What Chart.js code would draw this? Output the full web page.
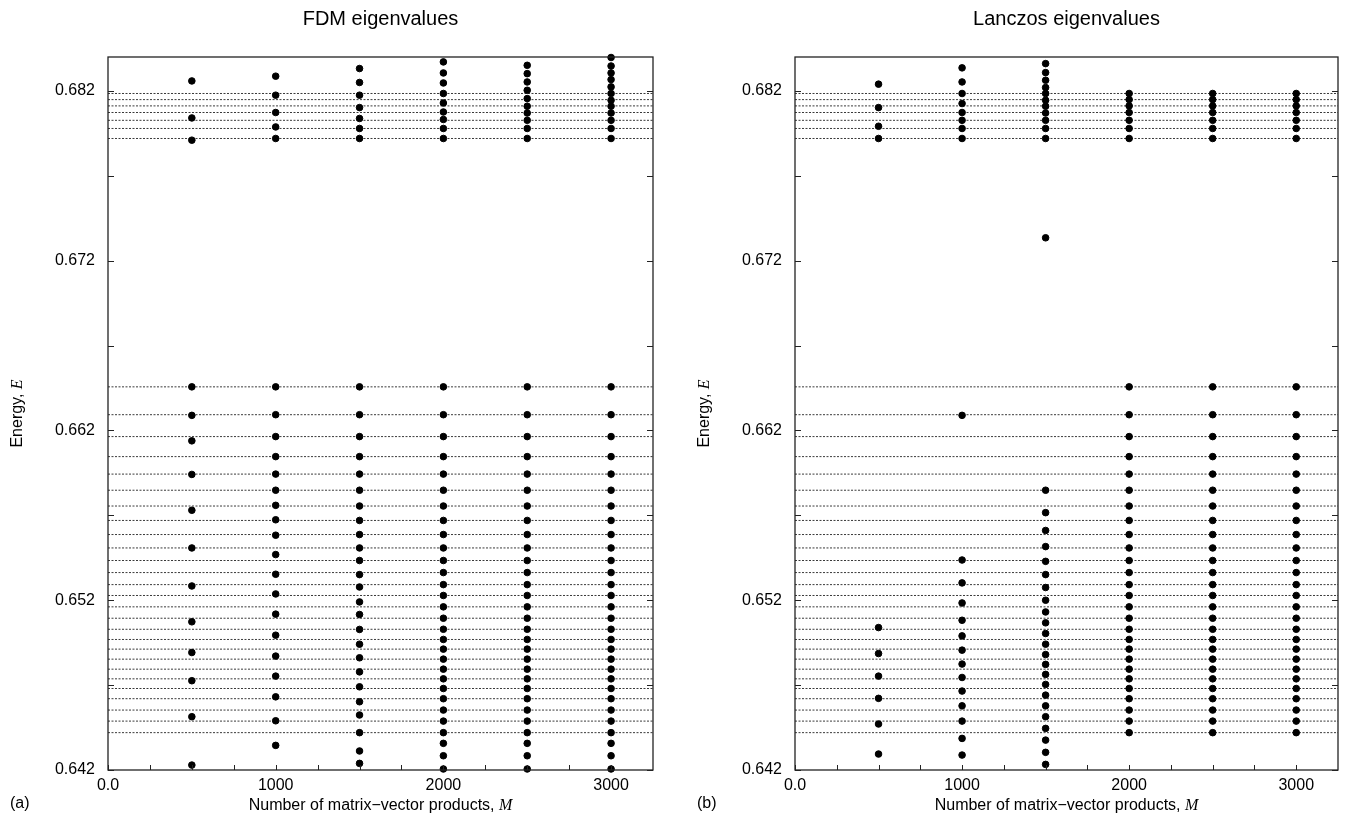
<!DOCTYPE html>
<html>
<head>
<meta charset="utf-8">
<script src="https://cdn.jsdelivr.net/npm/chart.js@4.4.0/dist/chart.umd.min.js"></script>
<style>
    body { margin: 0; background: #fff; }
    #wrap { position: relative; width: 1347px; height: 827px; }
    canvas { position: absolute; top: 0; }
    #fdmChart { left: 0; }
    #lanczosChart { left: 680px; }
</style>
</head>
<body>
<div id="wrap">
    <canvas id="fdmChart" width="680" height="827"></canvas>
    <canvas id="lanczosChart" width="667" height="827"></canvas>
</div>
<script>
// number of matrix-vector products used
var mValues = [500, 1000, 1500, 2000, 2500, 3000];

var xTickLabels = [0, 1000, 2000, 3000];
var xMinorTicks = [250, 500, 750, 1250, 1500, 1750, 2250, 2500, 2750];
var yTickLabels = [0.642, 0.652, 0.662, 0.672, 0.682];
var yMinorTicks = [0.647, 0.657, 0.667, 0.677];

// exact eigenvalues (dotted lines)
var upperLevels = [0.68185, 0.68149, 0.68112, 0.68073, 0.68027, 0.67979, 0.67920];
var lowerLevels = [0.66457, 0.66293, 0.66164, 0.66046, 0.65943, 0.65848, 0.65755, 0.65670, 0.65587,
    0.65508, 0.65434, 0.65363, 0.65292, 0.65228, 0.65161, 0.65094, 0.65029, 0.64969, 0.64912,
    0.64853, 0.64794, 0.64737, 0.64680, 0.64620, 0.64553, 0.64488, 0.64420];

// FDM eigenvalues per M
var fdm500 = [0.68259, 0.68041, 0.67910, 0.66457, 0.66289, 0.66139, 0.65941, 0.65730, 0.65508,
    0.65284, 0.65073, 0.64892, 0.64726, 0.64514, 0.64229];
var fdm1000 = [0.68287, 0.68175, 0.68073, 0.67988, 0.67920, 0.66457, 0.66293, 0.66164, 0.66046,
    0.65943, 0.65848, 0.65759, 0.65674, 0.65583, 0.65469, 0.65353, 0.65237, 0.65118, 0.64994,
    0.64871, 0.64753, 0.64631, 0.64490, 0.64345];
var fdm1500 = [0.68332, 0.68250, 0.68175, 0.68102, 0.68038, 0.67979, 0.67920, 0.66457, 0.66293,
    0.66164, 0.66046, 0.65943, 0.65848, 0.65755, 0.65670, 0.65587, 0.65508, 0.65434, 0.65351,
    0.65278, 0.65190, 0.65116, 0.65028, 0.64941, 0.64861, 0.64778, 0.64690, 0.64602, 0.64524,
    0.64420, 0.64312, 0.64239];
var fdm2000 = [0.68371, 0.68306, 0.68247, 0.68185, 0.68129, 0.68076, 0.68032, 0.67979, 0.67920]
    .concat(lowerLevels, [0.64357, 0.64284, 0.64206]);
var fdm2500 = [0.68351, 0.68302, 0.68253, 0.68204, 0.68155, 0.68110, 0.68070, 0.68027, 0.67979, 0.67920]
    .concat(lowerLevels, [0.64357, 0.64284, 0.64206]);
var fdm3000 = [0.68397, 0.68347, 0.68306, 0.68267, 0.68224, 0.68185, 0.68145, 0.68110, 0.68070,
    0.68027, 0.67979, 0.67920].concat(lowerLevels, [0.64357, 0.64284, 0.64206]);

// Lanczos eigenvalues per M
var lan500 = [0.68240, 0.68102, 0.67992, 0.67920, 0.65039, 0.64886, 0.64753, 0.64622, 0.64471, 0.64294];
var lan1000 = [0.68336, 0.68253, 0.68185, 0.68126, 0.68073, 0.68027, 0.67979, 0.67920, 0.66289,
    0.65437, 0.65302, 0.65184, 0.65082, 0.64990, 0.64906, 0.64824, 0.64745, 0.64665, 0.64578,
    0.64488, 0.64386, 0.64288];
var lan1500 = [0.68361, 0.68308, 0.68263, 0.68220, 0.68185, 0.68145, 0.68110, 0.68070, 0.68027,
    0.67979, 0.67920, 0.67335, 0.65848, 0.65716, 0.65611, 0.65516, 0.65429, 0.65351, 0.65275,
    0.65200, 0.65131, 0.65067, 0.65004, 0.64941, 0.64880, 0.64822, 0.64763, 0.64704, 0.64641,
    0.64578, 0.64514, 0.64445, 0.64376, 0.64304, 0.64233];
var lan2000 = upperLevels.concat(lowerLevels);
var lan2500 = upperLevels.concat(lowerLevels);
var lan3000 = upperLevels.concat(lowerLevels);

var X_MAX = 3250;
var SANS = "'Liberation Sans', Arial, Helvetica, sans-serif";
var SERIF = "'Liberation Serif', 'DejaVu Serif', serif";

Chart.defaults.font.family = SANS;
Chart.defaults.color = '#000';

function toPoints(columns) {
    var pts = [];
    columns.forEach(function (vals, i) {
        vals.forEach(function (v) { pts.push({ x: mValues[i], y: v }); });
    });
    return pts;
}

function levelDatasets() {
    return upperLevels.concat(lowerLevels).map(function (e) {
        return {
            type: 'line',
            data: [{ x: 0, y: e }, { x: X_MAX, y: e }],
            borderColor: '#3a3a3a',
            borderWidth: 1,
            borderDash: [2, 1.5],
            pointRadius: 0,
            order: 2
        };
    });
}

// frame, inward ticks and texts
var decorPlugin = {
    id: 'decor',
    afterDraw: function (chart, args, opts) {
        var ctx = chart.ctx, ca = chart.chartArea;
        var xs = chart.scales.x, ys = chart.scales.y;
        ctx.save();
        ctx.strokeStyle = '#222';
        ctx.lineWidth = 1.3;
        ctx.strokeRect(ca.left, ca.top, ca.right - ca.left, ca.bottom - ca.top);

        ctx.lineWidth = 1;
        ctx.beginPath();
        yTickLabels.concat(yMinorTicks).forEach(function (v) {
            var py = Math.round(ys.getPixelForValue(v)) + 0.5;
            ctx.moveTo(ca.left, py); ctx.lineTo(ca.left + 6, py);
            ctx.moveTo(ca.right, py); ctx.lineTo(ca.right - 6, py);
        });
        xTickLabels.concat(xMinorTicks).forEach(function (v) {
            var px = Math.round(xs.getPixelForValue(v)) + 0.5;
            ctx.moveTo(px, ca.bottom); ctx.lineTo(px, ca.bottom - 5);
        });
        ctx.stroke();

        ctx.fillStyle = '#000';
        ctx.textBaseline = 'middle';
        var cx = (ca.left + ca.right) / 2;

        ctx.textAlign = 'center';
        ctx.font = '20px ' + SANS;
        ctx.fillText(opts.title, cx, 19);

        // x axis title with italic M
        drawMixed(ctx, 'Number of matrix\u2212vector products, ', 'M', cx, 806);

        // y axis title with italic E
        ctx.save();
        ctx.translate(ca.left - 90, (ca.top + ca.bottom) / 2);
        ctx.rotate(-Math.PI / 2);
        drawMixed(ctx, 'Energy, ', 'E', 0, 0);
        ctx.restore();

        ctx.textAlign = 'left';
        ctx.font = '16px ' + SANS;
        ctx.fillText(opts.panel, ca.left - 98, 804);
        ctx.restore();
    }
};

function drawMixed(ctx, plain, italic, cx, cy) {
    ctx.font = '16px ' + SANS;
    var w1 = ctx.measureText(plain).width;
    ctx.font = 'italic 16px ' + SERIF;
    var w2 = ctx.measureText(italic).width;
    var x0 = cx - (w1 + w2) / 2;
    ctx.textAlign = 'left';
    ctx.font = '16px ' + SANS;
    ctx.fillText(plain, x0, cy);
    ctx.font = 'italic 16px ' + SERIF;
    ctx.fillText(italic, x0 + w1, cy);
}

function makeChart(canvasId, columns, title, panel, leftWidth, rightPad) {
    var ctx = document.getElementById(canvasId).getContext('2d');
    return new Chart(ctx, {
        type: 'scatter',
        data: {
            datasets: [{
                data: toPoints(columns),
                backgroundColor: '#000',
                borderColor: '#000',
                pointRadius: 3.3,
                pointHoverRadius: 3.3,
                clip: false,
                order: 1
            }].concat(levelDatasets())
        },
        options: {
            responsive: false,
            animation: false,
            events: [],
            layout: { padding: { top: 57, right: rightPad, bottom: 0, left: 0 } },
            plugins: {
                legend: { display: false },
                tooltip: { enabled: false },
                decor: { title: title, panel: panel }
            },
            scales: {
                x: {
                    type: 'linear',
                    min: 0,
                    max: X_MAX,
                    afterFit: function (s) { s.height = 57; },
                    afterBuildTicks: function (s) {
                        s.ticks = xTickLabels.map(function (v) { return { value: v }; });
                    },
                    grid: { display: false, drawTicks: false },
                    border: { display: false },
                    ticks: {
                        padding: 6,
                        maxRotation: 0,
                        font: { size: 16 },
                        callback: function (v) { return v === 0 ? '0.0' : String(v); }
                    }
                },
                y: {
                    type: 'linear',
                    min: 0.642,
                    max: 0.684,
                    afterFit: function (s) { s.width = leftWidth; },
                    afterBuildTicks: function (s) {
                        s.ticks = yTickLabels.map(function (v) { return { value: v }; });
                    },
                    grid: { display: false, drawTicks: false },
                    border: { display: false },
                    ticks: {
                        padding: 13,
                        font: { size: 16 },
                        callback: function (v) { return v.toFixed(3); }
                    }
                }
            }
        },
        plugins: [decorPlugin]
    });
}

makeChart('fdmChart', [fdm500, fdm1000, fdm1500, fdm2000, fdm2500, fdm3000],
    'FDM eigenvalues', '(a)', 108, 27);
makeChart('lanczosChart', [lan500, lan1000, lan1500, lan2000, lan2500, lan3000],
    'Lanczos eigenvalues', '(b)', 115, 9);
</script>
</body>
</html>
